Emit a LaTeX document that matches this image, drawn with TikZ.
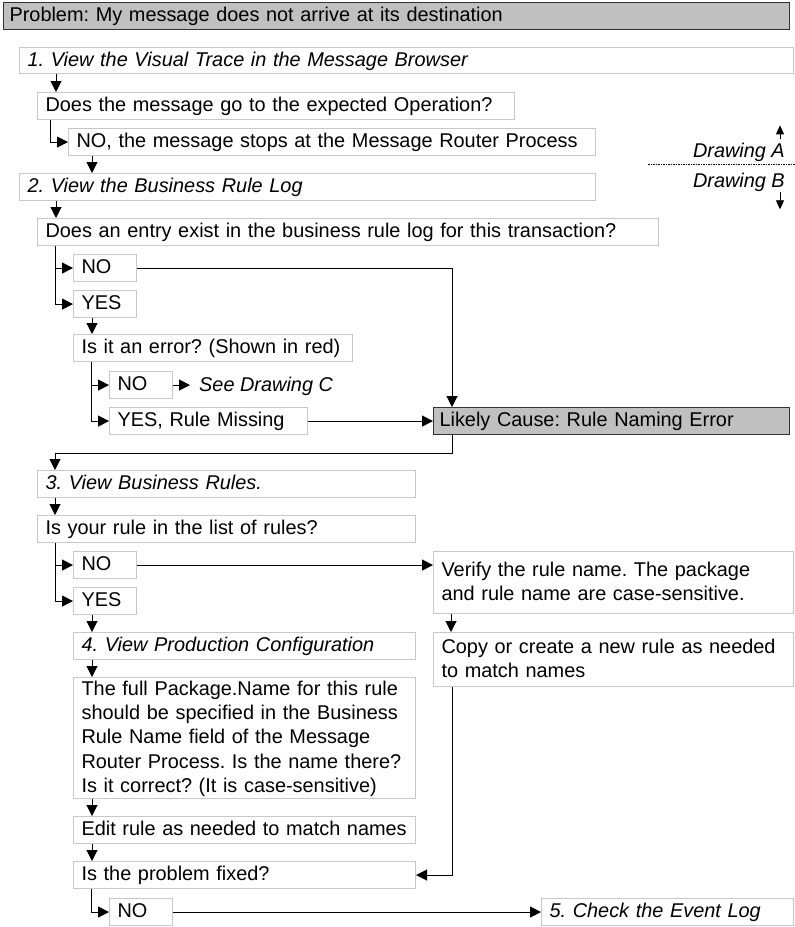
\documentclass[tikz,border=0pt]{standalone}
\usepackage{fontspec}
\setmainfont{Liberation Sans}
\usetikzlibrary{arrows.meta}
\frenchspacing
\definecolor{lgray}{RGB}{200,200,200}
\definecolor{dgray}{RGB}{50,50,50}
\definecolor{tgray}{RGB}{192,192,192}
\newcommand\fs{\fontsize{19.9}{24.2}\selectfont}
\newcommand\sta{\rule{0pt}{17.9pt}}
\newcommand\stb{\rule[-6.3pt]{0pt}{6.3pt}}
\newcommand\mybox[7][]{%
  \pgfmathsetmacro\tw{#4-#2-16}%
  \pgfmathsetmacro\mh{#5-#3}%
  \node[bx,#1,text width=\tw pt,minimum height=\mh pt] (#6) at (#2,#3) {#7};}
\begin{document}
\begin{tikzpicture}[x=1pt,y=-1pt,
  arr/.style={-{Triangle[length=11pt,width=11pt]}, line width=1pt},
  sarr/.style={-{Triangle[length=9pt,width=8pt]}, line width=0.8pt},
  bx/.style={draw=lgray, line width=1.1pt, anchor=north west, inner xsep=8pt,
    inner ysep=0pt, align=left, font=\fs,
    execute at begin node=\sta, execute at end node=\stb},
  dark/.style={draw=dgray, fill=tgray, inner xsep=6pt},
  lbl/.style={font=\fs\itshape, inner sep=0pt}]
\useasboundingbox (0,0) rectangle (795,927);

\mybox[dark]{3}{2}{793}{29}{title}{\mbox{Problem: My message does not arrive at its destination}}
\mybox{19}{47}{793}{73}{b1}{\mbox{\itshape 1. View the Visual Trace in the Message Browser}}
\mybox{37}{92}{514}{119}{q1}{\mbox{Does the message go to the expected Operation?}}
\mybox{68}{128}{595}{155}{n1}{\mbox{NO, the message stops at the Message Router Process}}
\mybox{19}{173}{595}{200}{b2}{\mbox{\itshape 2. View the Business Rule Log}}
\mybox{37}{218}{658}{245}{q2}{\mbox{Does an entry exist in the business rule log for this transaction?}}
\mybox{73}{254}{136}{281}{no2}{\mbox{NO}}
\mybox{73}{290}{136}{317}{yes2}{\mbox{YES}}
\mybox{73}{334}{352}{361}{q3}{\mbox{Is it an error? (Shown in red)}}
\mybox{109}{371}{172}{398}{no3}{\mbox{NO}}
\mybox{109}{407}{307}{434}{yes3}{\mbox{YES, Rule Missing}}
\node[lbl, anchor=base west] (seec) at (199,391) {See Drawing C};
\mybox[dark]{433}{407}{793}{434}{likely}{\mbox{Likely Cause: Rule Naming Error}}
\mybox{37}{470}{415}{497}{b3}{\mbox{\itshape 3. View Business Rules.}}
\mybox{37}{515}{415}{542}{q4}{\mbox{Is your rule in the list of rules?}}
\mybox{73}{551}{136}{578}{no4}{\mbox{NO}}
\mybox{73}{587}{136}{614}{yes4}{\mbox{YES}}
\mybox{433}{551}{793}{613}{verify}{\mbox{Verify the rule name. The package}\\\mbox{and rule name are case-sensitive.}}
\mybox{433}{632}{793}{686}{copy}{\mbox{Copy or create a new rule as needed}\\\mbox{to match names}}
\mybox{73}{632}{415}{659}{b4}{\mbox{\itshape 4. View Production Configuration}}
\mybox{73}{677}{415}{798}{full}{\mbox{The full Package.Name for this rule}\\\mbox{should be specified in the Business}\\\mbox{Rule Name field of the Message}\\\mbox{Router Process. Is the name there?}\\\mbox{Is it correct? (It is case-sensitive)}}
\mybox{73}{816}{415}{843}{edit}{\mbox{Edit rule as needed to match names}}
\mybox{73}{861}{415}{888}{fixed}{\mbox{Is the problem fixed?}}
\mybox{109}{898}{172}{925}{no5}{\mbox{NO}}
\mybox{541}{898}{793}{925}{b5}{\mbox{\itshape 5. Check the Event Log}}

% legend
\node[lbl, anchor=base east] (da) at (785,157) {Drawing A};
\node[lbl, anchor=base east] (db) at (785,187) {Drawing B};
\coordinate (dl) at (648,164);
\coordinate (dr) at (795,164);
\draw[line width=0.8pt, dash pattern=on 1.5pt off 1pt] (dl) -- (dr);
\draw[sarr] ([xshift=-5pt,yshift=3pt]da.north east) -- ++(0,-14);
\draw[sarr] ([xshift=-5pt,yshift=-1pt]db.south east) -- ++(0,17);

% connectors
\draw[arr] ([xshift=37pt]b1.south west) -- ([xshift=19pt]q1.north west);
\draw[arr] ([xshift=13pt]q1.south west) |- (n1.west);
\draw[arr] ([xshift=24pt]n1.south west) -- ([xshift=73pt]b2.north west);
\draw[arr] ([xshift=37pt]b2.south west) -- ([xshift=19pt]q2.north west);
\draw[arr] ([xshift=18pt]q2.south west) |- (no2.west);
\draw[arr] ([xshift=18pt]q2.south west) |- (yes2.west);
\draw[arr] (no2.east) -| ([xshift=19pt]likely.north west);
\draw[arr] ([xshift=19pt]yes2.south west) -- ([xshift=19pt]q3.north west);
\draw[arr] ([xshift=18pt]q3.south west) |- (no3.west);
\draw[arr] ([xshift=18pt]q3.south west) |- (yes3.west);
\draw[arr] (no3.east) -- ([xshift=-9pt]seec.west |- no3.east);
\draw[arr] (yes3.east) -- (likely.west);
\draw[arr] ([xshift=19pt]likely.south west) -- ++(0,18) -| ([xshift=18pt]b3.north west);
\draw[arr] ([xshift=18pt]b3.south west) -- ([xshift=18pt]q4.north west);
\draw[arr] ([xshift=18pt]q4.south west) |- (no4.west);
\draw[arr] ([xshift=18pt]q4.south west) |- (yes4.west);
\draw[arr] (no4.east) -- (no4.east -| verify.west);
\draw[arr] ([xshift=18pt]verify.south west) -- ([xshift=18pt]copy.north west);
\draw[arr] ([xshift=19pt]yes4.south west) -- ([xshift=19pt]b4.north west);
\draw[arr] ([xshift=19pt]b4.south west) -- ([xshift=19pt]full.north west);
\draw[arr] ([xshift=19pt]full.south west) -- ([xshift=19pt]edit.north west);
\draw[arr] ([xshift=19pt]edit.south west) -- ([xshift=19pt]fixed.north west);
\draw[arr] ([xshift=19pt]copy.south west) |- (fixed.east);
\draw[arr] ([xshift=18pt]fixed.south west) |- (no5.west);
\draw[arr] (no5.east) -- (b5.west);
\end{tikzpicture}
\end{document}
